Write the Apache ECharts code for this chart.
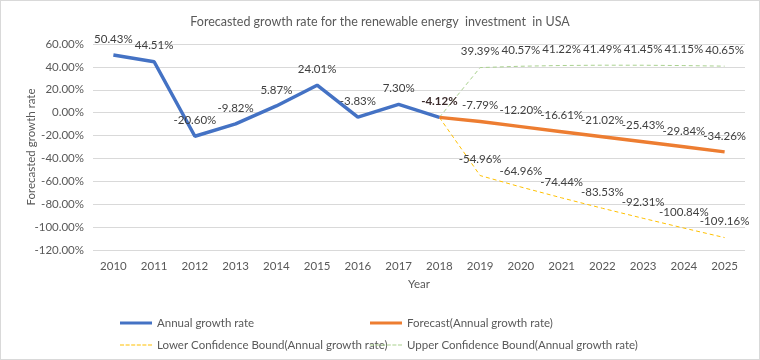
<!DOCTYPE html>
<html>
<head>
<meta charset="utf-8">
<script src="https://cdn.jsdelivr.net/npm/echarts@6/dist/echarts.min.js"></script>
<style>
html,body{margin:0;padding:0;background:#fff;}
#c{width:758px;height:358px;border:1px solid #d9d9d9;}
</style>
</head>
<body>
<div id="c"></div>
<script>
var years = ['2010','2011','2012','2013','2014','2015','2016','2017','2018','2019','2020','2021','2022','2023','2024','2025'];
var annual = [50.43, 44.51, -20.60, -9.82, 5.87, 24.01, -3.83, 7.30, -4.12, null, null, null, null, null, null, null];
var forecast = [null, null, null, null, null, null, null, null, -4.12, -7.79, -12.20, -16.61, -21.02, -25.43, -29.84, -34.26];
var lower = [null, null, null, null, null, null, null, null, -4.12, -54.96, -64.96, -74.44, -83.53, -92.31, -100.84, -109.16];
var upper = [null, null, null, null, null, null, null, null, -4.12, 39.39, 40.57, 41.22, 41.49, 41.45, 41.15, 40.65];
var yTicks = {min: -120, max: 60, interval: 20};

var FONT = 'Lato';
var FS = 11.5;
function pct(v){ return v.toFixed(2) + '%'; }
function withLabels(arr, hideIdx, boldIdx){
  return arr.map(function(v, i){
    if (v === null) return null;
    var o = {value: v};
    if (i === hideIdx) o.label = {show: false};
    if (i === boldIdx) o.label = {show: true, fontWeight: 'bold', color: '#3a2a2a'};
    return o;
  });
}
var labelCfg = {show: true, position: 'top', distance: 10, fontFamily: FONT, fontSize: FS, color: '#404040',
  formatter: function(p){ return pct(p.value); }};

var SOLID = 'path://M0,0H32V3H0Z';
var DASH = 'path://M0,0H4V1H0Z M5.5,0H9.5V1H5.5Z M11,0H15V1H11Z M16.5,0H20.5V1H16.5Z M22,0H26V1H22Z M27.5,0H31.5V1H27.5Z';

var chart = echarts.init(document.getElementById('c'), null, {renderer: 'canvas'});
function legendAt(name, icon, color, h, left, top){
  return {data: [{name: name, icon: icon, itemStyle: {color: color}}], left: left, top: top,
    itemWidth: 32, itemHeight: h, itemGap: 4, symbolKeepAspect: false,
    textStyle: {fontFamily: FONT, fontSize: FS, color: '#595959'}, selectedMode: false};
}
chart.setOption({
  animation: false,
  title: {text: 'Forecasted growth rate for the renewable energy  investment  in USA', left: 'center', top: 9,
    textStyle: {fontFamily: FONT, fontSize: 12.5, fontWeight: 'normal', color: '#595959'}},
  legend: [
    legendAt('Annual growth rate', SOLID, '#4472C4', 3, 114, 311),
    legendAt('Forecast(Annual growth rate)', SOLID, '#ED7D31', 3, 364, 311),
    legendAt('Lower Confidence Bound(Annual growth rate)', DASH, '#FFC000', 1, 114, 333),
    legendAt('Upper Confidence Bound(Annual growth rate)', DASH, '#A9D18E', 1, 364, 333)
  ],
  grid: {left: 92, right: 14, top: 43, bottom: 109, containLabel: false},
  xAxis: {type: 'category', data: years, boundaryGap: true,
    name: 'Year', nameLocation: 'middle', nameGap: 28, nameMoveOverlap: false,
    nameTextStyle: {fontFamily: FONT, fontSize: FS, color: '#595959'},
    axisLine: {show: false}, axisTick: {show: false},
    axisLabel: {fontFamily: FONT, fontSize: FS, color: '#595959', margin: 10}},
  yAxis: {type: 'value', min: yTicks.min, max: yTicks.max, interval: yTicks.interval,
    name: 'Forecasted growth rate', nameLocation: 'middle', nameGap: 56, nameRotate: 90, nameMoveOverlap: false,
    nameTextStyle: {fontFamily: FONT, fontSize: FS, color: '#595959'},
    axisLine: {show: false}, axisTick: {show: false},
    axisLabel: {fontFamily: FONT, fontSize: FS, color: '#595959', margin: 9, formatter: function(v){ return pct(v); }},
    splitLine: {lineStyle: {color: '#d9d9d9', width: 1}}},
  series: [
    {name: 'Lower Confidence Bound(Annual growth rate)', type: 'line', data: withLabels(lower, 8), symbol: 'circle', symbolSize: 0.01, showSymbol: true,
      lineStyle: {color: '#FFC000', width: 1, type: [4, 3]}, itemStyle: {color: '#FFC000'}, label: labelCfg, z: 2},
    {name: 'Upper Confidence Bound(Annual growth rate)', type: 'line', data: withLabels(upper, 8), symbol: 'circle', symbolSize: 0.01, showSymbol: true,
      lineStyle: {color: '#A9D18E', width: 1, type: [4, 3]}, itemStyle: {color: '#A9D18E'}, label: labelCfg, z: 2},
    {name: 'Forecast(Annual growth rate)', type: 'line', data: withLabels(forecast, 8), symbol: 'circle', symbolSize: 0.01, showSymbol: true,
      lineStyle: {color: '#ED7D31', width: 3.5}, itemStyle: {color: '#ED7D31'}, label: labelCfg, z: 3},
    {name: 'Annual growth rate', type: 'line', data: withLabels(annual, -1, 8), symbol: 'circle', symbolSize: 0.01, showSymbol: true,
      lineStyle: {color: '#4472C4', width: 3.5}, itemStyle: {color: '#4472C4'}, label: labelCfg, z: 4}
  ]
});
</script>
</body>
</html>
